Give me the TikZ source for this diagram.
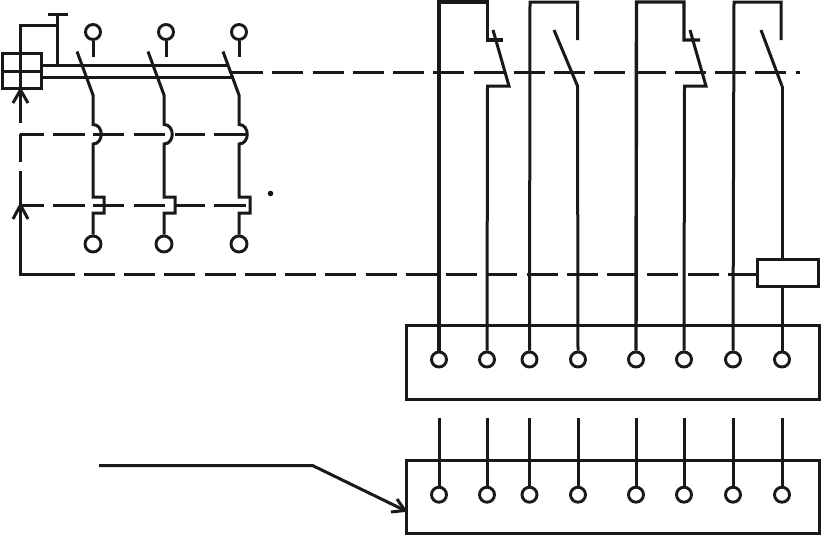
\documentclass[tikz,border=0pt]{standalone}
\begin{document}
\begin{tikzpicture}[x=1pt,y=-1pt,
  wire/.style={line width=3pt,draw=black!90,line cap=butt,line join=miter},
  heavy/.style={wire,line width=3.4pt},
  dashline/.style={wire,dash pattern=on 31pt off 9.25pt},
  term/.style={circle,draw=black!90,line width=2.9pt,fill=white,inner sep=0pt,minimum size=15pt},
  lterm/.style={term,minimum size=16pt},
  blockbox/.style={rectangle,draw=black!90,line width=3pt,inner sep=0pt}]
\useasboundingbox (0,0) rectangle (822,536);

% ---- left device: test button and release
\coordinate (tbarL) at (48,14.5); \coordinate (tbarR) at (68,14.5);
\coordinate (tbarM) at (57.5,14.5); \coordinate (tbarB) at (57.5,65);
\draw[wire] (tbarL) -- (tbarR);
\draw[wire] (tbarM) -- (tbarB);
\node[blockbox,minimum width=39pt,minimum height=35pt] (rel) at (21.5,71) {};
\coordinate (relTop) at (20.5,25);
\draw[wire] (57.5,25) -- (relTop) -- (20.5,88);
\draw[wire] (rel.west) -- (rel.east);
\draw[wire] (41,65) -- (228,65);
\draw[wire] (41,77) -- (233,77);

% release arrow
\coordinate (a1tip) at (20.5,90);
\draw[wire] (20.5,122.5) -- (a1tip);
\draw[wire] (13,103) -- (a1tip) -- (28,103);
% lower arrow and return line
\coordinate (a2tip) at (20.5,205);
\draw[wire] (43.5,274.5) -- (20.5,274.5) -- (a2tip);
\draw[wire] (13,219) -- (a2tip) -- (28,219);
\draw[wire] (20.5,134) -- (20.5,161.5);
\draw[wire] (20.5,171) -- (20.5,204);

% ---- three poles
\foreach \x/\tx/\n in {93/93/a,164/166/b,239/239/c}{
  \node[term] (top\n) at (\tx,32) {};
  \node[lterm] (bot\n) at (\x,244) {};
  \draw[wire] (top\n.south) -- (\tx,56.5);
  \draw[wire] (\x-16,51.5) -- (\x,95) -- (\x,124.5)
     .. controls (\x+11,124.5) and (\x+11,144) .. (\x,144)
     -- (\x,197) -- (\x+11,197) -- (\x+11,213) -- (\x,213) -- (bot\n.north);
}
% dashed links across poles
\foreach \y in {134,205}{
  \foreach \a/\b in {20/43.5,53/85,93/124,134/165,175/205,214/246}{
    \draw[wire] (\a,\y) -- (\b,\y);
  }
}
\fill[black!90] (270.5,193.5) circle (2.8pt);

% ---- terminal blocks
\node[blockbox,minimum width=413.5pt,minimum height=74pt] (blockA) at (613,362.7) {};
\node[blockbox,minimum width=413.5pt,minimum height=73pt] (blockB) at (613,496.5) {};
\foreach \x/\n in {439/1,487/2,529.5/3,578/4,636/5,684/6,733/7,782/8}{
  \node[term] (u\n) at (\x,359.5) {};
  \node[term] (v\n) at (\x,494.7) {};
  \coordinate (s\n) at (\x,418);
  \draw[wire] (s\n) -- (v\n.north);
}

% ---- right contacts
\draw[heavy] (u1.north) -- (439,2) -- (487.5,2) -- (487.5,40) -- (503,40);
\draw[wire]  (493,30) -- (509,86) -- (487.5,86) -- (u2.north);
\draw[wire]  (u3.north) -- (530,2) -- (577.5,2) -- (577.5,40);
\draw[wire]  (554,30) -- (577.5,86) -- (u4.north);
\draw[heavy] (u5.north) -- (636.5,2) -- (684,2) -- (684,40) -- (700,40);
\draw[wire]  (690,30) -- (706,86) -- (684.5,86) -- (u6.north);
\draw[wire]  (u7.north) -- (734,2) -- (781,2) -- (781,40);
\draw[wire]  (761,30) -- (782,86);
\node[blockbox,fill=white,minimum width=61pt,minimum height=27pt] (coil) at (788,272.5) {};
\draw[wire]  (782,86) -- (coil.north -| 782,0);
\draw[wire]  (coil.south -| 782,0) -- (u8.north);

% ---- mechanical linkages
\coordinate (m1) at (232,72.7); \coordinate (m2) at (800,72.7);
\draw[dashline] (m1) -- (m2);
\coordinate (r1) at (43.5,274.5);
\draw[dashline] (r1) -- (coil.west |- r1);

% ---- leader arrow
\coordinate (l1) at (99,465.5); \coordinate (l2) at (312.5,465.5);
\coordinate (l3) at (405,510.5);
\draw[wire] (l1) -- (l2) -- (l3);
\draw[wire] (397,499) -- (l3) -- (391,512);
\end{tikzpicture}
\end{document}
